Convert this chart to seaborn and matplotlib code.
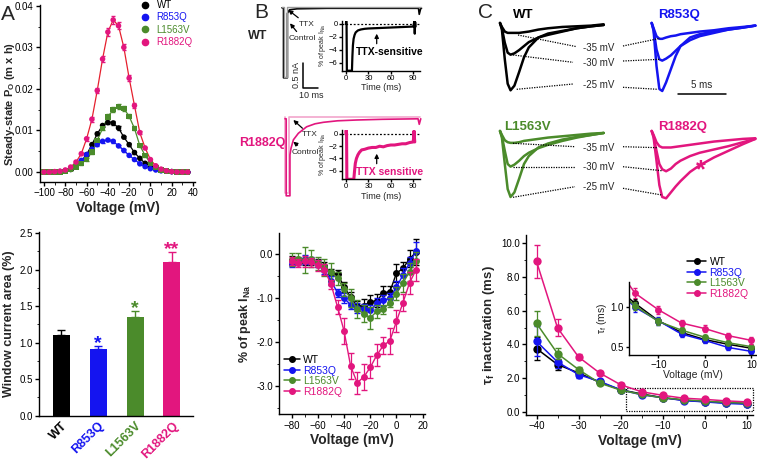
import numpy as np
import pandas as pd
import matplotlib
matplotlib.use('Agg')
import matplotlib.pyplot as plt
import seaborn as sns
from matplotlib.lines import Line2D
from matplotlib.patches import Rectangle
from matplotlib.ticker import MultipleLocator

#-----------data-------------------
names = ['WT', 'R853Q', 'L1563V', 'R1882Q']
colors = ['black', '#1414f0', '#4b8b2b', '#e2167e']
fit_colors = ['black', '#1414f0', '#4b8b2b', '#e5202e']

# A top : window current (m x h)
volt_a = list(range(-100, 40, 5))
po_wt = [0, 0, 0, 0.0001, 0.0003, 0.0006, 0.0013, 0.0025, 0.0042, 0.0066, 0.0092, 0.0112, 0.0119, 0.0118,
         0.0106, 0.0084, 0.0066, 0.0047, 0.0033, 0.0021, 0.0014, 0.0008, 0.0004, 0.0002, 0.0001, 0, 0, 0]
po_r853q = [0, 0, 0, 0.0001, 0.0003, 0.0008, 0.0016, 0.0028, 0.0042, 0.0055, 0.0066, 0.0074, 0.0077, 0.0074,
            0.0063, 0.0052, 0.0040, 0.0030, 0.0020, 0.0013, 0.0008, 0.0005, 0.0003, 0.0002, 0.0001, 0, 0, 0]
po_l1563v = [0, 0, 0, 0, 0.0002, 0.0006, 0.0012, 0.0020, 0.0030, 0.0048, 0.0076, 0.0105, 0.0133, 0.0150,
             0.0158, 0.0153, 0.0134, 0.0105, 0.0064, 0.0040, 0.0022, 0.0011, 0.0005, 0.0002, 0.0001, 0, 0, 0]
po_r1882q = [0, 0, 0.0001, 0.0002, 0.0005, 0.0012, 0.0024, 0.0044, 0.0080, 0.0127, 0.0196, 0.0272, 0.0337, 0.0366,
             0.0352, 0.0300, 0.0226, 0.0160, 0.0095, 0.0058, 0.0030, 0.0015, 0.0007, 0.0003, 0.0001, 0, 0, 0]
err_a_wt = [0, 0, 0, 0, 0, 0, 0.0002, 0.0002, 0.0003, 0.0003, 0.0004, 0.0004, 0.0004, 0.0004,
            0.0004, 0.0003, 0.0003, 0.0003, 0.0002, 0.0002, 0.0001, 0, 0, 0, 0, 0, 0, 0]
err_a_r853q = [0, 0, 0, 0, 0, 0, 0.0002, 0.0002, 0.0002, 0.0003, 0.0003, 0.0003, 0.0003, 0.0003,
               0.0003, 0.0003, 0.0002, 0.0002, 0.0002, 0.0001, 0.0001, 0, 0, 0, 0, 0, 0, 0]
err_a_l1563v = [0, 0, 0, 0, 0, 0.0001, 0.0002, 0.0002, 0.0003, 0.0004, 0.0005, 0.0005, 0.0006, 0.0006,
                0.0006, 0.0006, 0.0005, 0.0005, 0.0004, 0.0003, 0.0002, 0.0001, 0, 0, 0, 0, 0, 0]
err_a_r1882q = [0, 0, 0, 0, 0, 0.0002, 0.0003, 0.0004, 0.0005, 0.0006, 0.0007, 0.0008, 0.0009, 0.0010,
                0.0008, 0.0007, 0.0007, 0.0005, 0.0004, 0.0003, 0.0002, 0.0001, 0, 0, 0, 0, 0, 0]

# A bottom : window current area
bar_vals = [1.11, 0.91, 1.35, 2.10]
bar_sem = [0.06, 0.05, 0.09, 0.14]
bar_stars = ['', '*', '*', '**']

# B bottom : persistent current
volt_b = list(range(-80, 20, 5))
ina_wt = [-0.14, -0.15, -0.17, -0.16, -0.20, -0.27, -0.42, -0.45, -0.74, -0.98, -1.18, -1.17, -1.08, -1.06,
          -0.88, -0.85, -0.43, -0.32, -0.10, 0.05]
ina_r853q = [-0.22, -0.16, -0.11, -0.15, -0.22, -0.36, -0.60, -0.88, -1.00, -1.15, -1.22, -1.25, -1.28, -1.12,
             -1.05, -1.00, -0.75, -0.47, -0.20, 0.08]
ina_l1563v = [-0.12, -0.10, -0.13, -0.10, -0.20, -0.30, -0.40, -0.55, -0.80, -1.00, -1.25, -1.35, -1.45, -1.30,
              -1.25, -1.10, -0.90, -0.65, -0.40, -0.15]
ina_r1882q = [-0.15, -0.20, -0.16, -0.18, -0.25, -0.35, -0.68, -1.20, -1.75, -2.55, -2.93, -2.80, -2.58, -2.30,
              -2.08, -1.97, -1.53, -1.10, -0.65, -0.35]
err_b_wt = [0.10, 0.08, 0.08, 0.08, 0.10, 0.10, 0.08, 0.10, 0.12, 0.12, 0.12, 0.15, 0.15, 0.15, 0.15, 0.12, 0.20, 0.15, 0.20, 0.30]
err_b_r853q = [0.08, 0.08, 0.10, 0.08, 0.08, 0.10, 0.10, 0.10, 0.12, 0.10, 0.12, 0.12, 0.12, 0.12, 0.12, 0.12, 0.15, 0.15, 0.15, 0.20]
err_b_l1563v = [0.15, 0.12, 0.30, 0.20, 0.15, 0.20, 0.20, 0.15, 0.15, 0.20, 0.20, 0.20, 0.25, 0.15, 0.10, 0.10, 0.15, 0.20, 0.20, 0.20]
err_b_r1882q = [0.10, 0.10, 0.12, 0.10, 0.12, 0.12, 0.10, 0.15, 0.30, 0.30, 0.25, 0.30, 0.25, 0.25, 0.20, 0.30, 0.25, 0.20, 0.25, 0.25]

# B top : raw traces (ms, nA) and TTX-sensitive traces (ms, % of peak)
bwt_t_ctrl = [0, 1.0, 1.0, 3.6, 3.6, 5, 10, 30, 60, 91, 91.5, 92.5, 93]
bwt_i_ctrl = [-0.01, -0.01, -1.41, -1.41, -0.12, -0.05, -0.03, -0.02, -0.02, -0.02, -0.14, -0.02, -0.02]
bwt_t_ttx = [0, 1.5, 1.5, 3.1, 3.1, 93]
bwt_i_ttx = [0, 0, -1.40, -1.40, 0, 0]
br_t_ctrl = [0, 0.8, 0.8, 3.3, 3.3, 4.0, 5.6, 8.9, 14.4, 20, 25.6, 35, 47.8, 65, 88.7, 89.5, 90.5]
br_i_ctrl = [-0.01, -0.01, -1.55, -1.55, -0.73, -0.60, -0.43, -0.30, -0.17, -0.11, -0.08, -0.05, -0.034, -0.02, -0.01, -0.12, -0.01]
br_t_ttx = [0, 0.3, 0.3, 2.8, 2.8, 90]
br_i_ttx = [0.02, 0.02, -1.50, -1.50, 0.02, 0.02]
iwt_t = [0, 0.3, 0.8, 1.2, 2, 5, 8, 8.6, 9.3, 10.2, 11.5, 13, 16, 20, 25, 30, 40, 50, 60, 70, 80, 90, 91.5, 92, 92.5, 93]
iwt_i = [0.0, 0.5, 0.0, -7.2, -7.2, -7.2, -7.2, -5.0, -3.3, -2.3, -1.7, -1.3, -1.0, -0.85, -0.75, -0.70,
         -0.65, -0.60, -0.55, -0.50, -0.45, -0.40, 0.4, -1.5, 0.3, -0.4]
ir_t = [0, 0.3, 0.8, 1.2, 5, 10.5, 11.5, 12.5, 14, 16, 18, 21, 25, 30, 35, 40, 45, 50, 55, 60, 65, 70, 75,
        80, 85, 90, 91, 91.5, 92]
ir_i = [0, 0.6, 0, -7.4, -7.4, -7.4, -6.0, -4.8, -4.0, -3.4, -3.0, -2.6, -2.5, -2.3, -2.2, -2.2, -2.0, -2.1,
        -1.9, -1.8, -1.8, -1.7, -1.6, -1.6, -1.4, -1.3, 0.5, -0.5, -1.3]

# C top : normalised current traces at -25/-30/-35 mV
tr_t = [0, 0.2, 0.5, 0.8, 1.1, 1.5, 2.0, 2.5, 3.0, 4.0, 5.0, 6.5, 8.0, 9.5, 10.8]
tr_wt = {
    '-25': [0, -0.10, -0.55, -0.92, -1.02, -0.95, -0.74, -0.52, -0.37, -0.22, -0.16, -0.12, -0.08, -0.05, -0.03],
    '-30': [0, -0.08, -0.30, -0.45, -0.48, -0.46, -0.41, -0.35, -0.29, -0.22, -0.18, -0.13, -0.08, -0.05, -0.03],
    '-35': [0, -0.06, -0.13, -0.15, -0.15, -0.15, -0.15, -0.14, -0.13, -0.10, -0.08, -0.06, -0.05, -0.04, -0.02]}
tr_r853q = {
    '-25': [0, -0.12, -0.65, -1.00, -1.03, -0.90, -0.70, -0.50, -0.35, -0.22, -0.17, -0.13, -0.10, -0.07, -0.04],
    '-30': [0, -0.10, -0.40, -0.55, -0.57, -0.54, -0.49, -0.42, -0.35, -0.26, -0.20, -0.15, -0.10, -0.07, -0.04],
    '-35': [0, -0.08, -0.20, -0.24, -0.24, -0.22, -0.20, -0.19, -0.17, -0.15, -0.13, -0.11, -0.08, -0.06, -0.04]}
tr_l1563v = {
    '-25': [0, -0.10, -0.50, -0.88, -1.00, -0.93, -0.72, -0.50, -0.38, -0.25, -0.19, -0.13, -0.09, -0.06, -0.03],
    '-30': [0, -0.08, -0.30, -0.50, -0.54, -0.51, -0.45, -0.38, -0.33, -0.26, -0.21, -0.15, -0.10, -0.06, -0.03],
    '-35': [0, -0.06, -0.14, -0.17, -0.18, -0.18, -0.17, -0.15, -0.14, -0.12, -0.10, -0.08, -0.06, -0.04, -0.03]}
tr_r1882q = {
    '-25': [0, -0.10, -0.45, -0.82, -1.00, -1.02, -0.93, -0.84, -0.76, -0.62, -0.52, -0.40, -0.30, -0.20, -0.12],
    '-30': [0, -0.08, -0.30, -0.50, -0.58, -0.61, -0.57, -0.50, -0.45, -0.38, -0.33, -0.28, -0.23, -0.17, -0.12],
    '-35': [0, -0.06, -0.17, -0.23, -0.25, -0.25, -0.25, -0.24, -0.23, -0.21, -0.19, -0.16, -0.14, -0.12, -0.11]}

# C bottom : tau_f inactivation
volt_c = list(range(-40, 15, 5))
tau_wt = [3.75, 2.80, 2.30, 1.75, 1.30, 1.05, 0.83, 0.68, 0.59, 0.53, 0.48]
tau_r853q = [4.18, 2.95, 2.20, 1.80, 1.30, 1.00, 0.83, 0.66, 0.58, 0.49, 0.44]
tau_l1563v = [5.25, 3.45, 2.50, 1.70, 1.28, 1.02, 0.82, 0.71, 0.62, 0.55, 0.50]
tau_r1882q = [8.93, 4.98, 3.25, 2.30, 1.60, 1.18, 0.97, 0.80, 0.73, 0.64, 0.58]
err_c_wt = [0.70, 0.30, 0.20, 0.10, 0.06, 0.05, 0.04, 0.03, 0.03, 0.03, 0.03]
err_c_r853q = [0.90, 0.35, 0.20, 0.10, 0.06, 0.06, 0.05, 0.04, 0.03, 0.03, 0.03]
err_c_l1563v = [0.75, 0.35, 0.15, 0.10, 0.06, 0.05, 0.04, 0.04, 0.03, 0.03, 0.03]
err_c_r1882q = [1.00, 0.50, 0.15, 0.10, 0.08, 0.06, 0.05, 0.04, 0.04, 0.04, 0.04]

#-----------style-------------------
sns.set_style('ticks')
plt.rcParams['font.family'] = ['Liberation Sans', 'DejaVu Sans']
plt.rcParams.update({'mathtext.fontset': 'custom', 'mathtext.rm': 'Liberation Sans',
                     'mathtext.bf': 'Liberation Sans:bold', 'mathtext.it': 'Liberation Sans:italic',
                     'axes.linewidth': 1.0, 'xtick.major.width': 1.0, 'ytick.major.width': 1.0,
                     'xtick.major.size': 3, 'ytick.major.size': 3, 'xtick.minor.size': 1.8,
                     'ytick.minor.size': 1.8, 'xtick.major.pad': 1.5, 'ytick.major.pad': 1.5,
                     'xtick.color': 'black', 'ytick.color': 'black', 'axes.edgecolor': 'black'})

W, H = 757, 461
fig = plt.figure(figsize=(7.57, 4.61), dpi=100)


def box(x0, y0, x1, y1):
    return fig.add_axes([x0 / W, 1 - y1 / H, (x1 - x0) / W, (y1 - y0) / H])


def fp(x, y):
    return (x / W, 1 - y / H)


def color_legend(leg, cols):
    for t, c in zip(leg.get_texts(), cols):
        t.set_color(c)


def clean(ax):
    sns.despine(ax=ax)
    ax.tick_params(labelsize=7)


#-----------A top-------------------
ax = box(40, 5, 195, 182)
series_a = [po_wt, po_r853q, po_l1563v, po_r1882q]
errs_a = [err_a_wt, err_a_r853q, err_a_l1563v, err_a_r1882q]
markers_a = ['o', 'o', 's', 'o']
for name, y, e, c, lc, m in zip(names, series_a, errs_a, colors, fit_colors, markers_a):
    sns.lineplot(x=volt_a, y=y, color=lc, lw=0.9, ax=ax)
    ax.errorbar(volt_a, y, yerr=e, fmt='none', ecolor=c, elinewidth=0.8, capsize=1.5)
    sns.scatterplot(x=volt_a, y=y, color=c, s=16, marker=m, edgecolor='none', ax=ax, zorder=3)
ax.set_xlim(-103.8, 41.9)
ax.set_ylim(-0.0024, 0.0402)
ax.set_xticks(range(-100, 41, 20))
ax.set_yticks([0, 0.01, 0.02, 0.03, 0.04])
ax.set_yticklabels(['0.00', '0.01', '0.02', '0.03', '0.04'])
ax.xaxis.set_minor_locator(MultipleLocator(10))
ax.yaxis.set_minor_locator(MultipleLocator(0.005))
clean(ax)
ax.set_xlabel('Voltage (mV)', fontsize=10, fontweight='bold', labelpad=2)
ax.set_ylabel(r'Steady-state P$_\mathbf{O}$ (m x h)', fontsize=8, fontweight='bold')
ax.yaxis.set_label_coords(-0.15, 0.44)
handles = [Line2D([], [], ls='none', marker=m, color=c, ms=4.5) for m, c in zip(['o', 'o', 'o', 'o'], colors)]
leg = ax.legend(handles, names, loc='upper left', bbox_to_anchor=fp(141, 0), bbox_transform=fig.transFigure,
                frameon=False, fontsize=7, handlelength=0.8, handletextpad=0.8, labelspacing=0.25,
                borderpad=0, borderaxespad=0)
color_legend(leg, colors)

#-----------A bottom-------------------
ax = box(39, 231.7, 193, 415.7)
sns.barplot(x=names, y=bar_vals, hue=names, palette=colors, legend=False, width=0.46, ax=ax,
            saturation=1, edgecolor='none')
for i, (v, s, c, st) in enumerate(zip(bar_vals, bar_sem, colors, bar_stars)):
    ax.errorbar(i, v, yerr=[[0], [s]], fmt='none', ecolor=c, elinewidth=1, capsize=3, capthick=1)
    ax.text(i, v + s - 0.03, st, ha='center', va='baseline', color=c, fontsize=14, fontweight='bold')
ax.set_xlim(-0.6, 3.57)
ax.set_ylim(0, 2.52)
ax.set_yticks([0, 0.5, 1.0, 1.5, 2.0, 2.5])
ax.set_yticklabels(['0.0', '0.5', '1.0', '1.5', '2.0', '2.5'])
ax.yaxis.set_minor_locator(MultipleLocator(0.25))
clean(ax)
ax.tick_params(axis='x', length=0, pad=3)
ax.set_xticks(range(4))
ax.set_xticklabels(names, rotation=45, ha='right', rotation_mode='anchor', fontsize=9, fontweight='bold')
for t, c in zip(ax.get_xticklabels(), colors):
    t.set_color(c)
ax.set_ylabel('Window current area (%)', fontsize=9, fontweight='bold', labelpad=3)

#-----------B top traces-------------------
axw = box(270, 0, 430, 100)
axw.axis('off')
axw.set_xlim(-8, 98.67)
axw.set_ylim(-1.854, 0.146)
sns.lineplot(x=bwt_t_ctrl, y=bwt_i_ctrl, color='black', lw=1.2, estimator=None, sort=False, ax=axw)
sns.lineplot(x=bwt_t_ttx, y=bwt_i_ttx, color='#9a9a9a', lw=1.0, estimator=None, sort=False, ax=axw)
# scale bar 10 ms / 0.5 nA
axw.plot([14.2, 14.2, 14.2 + 10], [-1.12, -1.62, -1.62], color='black', lw=1.1)

axr = box(270, 110, 430, 210)
axr.axis('off')
axr.set_xlim(-10, 96.67)
axr.set_ylim(-1.834, 0.166)
sns.lineplot(x=br_t_ttx, y=br_i_ttx, color='#f2a6cc', lw=1.2, estimator=None, sort=False, ax=axr)
sns.lineplot(x=br_t_ctrl, y=br_i_ctrl, color=colors[3], lw=1.2, estimator=None, sort=False, ax=axr)

fig.text(*fp(296.7, 75), '0.5 nA', rotation=90, ha='center', va='center', fontsize=6.5)
fig.text(*fp(311, 95), '10 ms', ha='center', va='center', fontsize=6.5)
fig.text(*fp(258, 36), 'WT', ha='center', va='center', fontsize=9, fontweight='bold')
fig.text(*fp(262, 143), 'R1882Q', ha='center', va='center', fontsize=9, fontweight='bold', color=colors[3])

arrow = dict(arrowstyle='-|>', color='black', lw=0.9, mutation_scale=6, shrinkA=0, shrinkB=0)
axw.annotate('TTX', xy=fp(288.3, 10), xytext=fp(299, 24.5), xycoords='figure fraction',
             textcoords='figure fraction', fontsize=6, va='center', arrowprops=arrow)
axw.annotate('Control', xy=fp(290, 23.3), xytext=fp(288.3, 38.3), xycoords='figure fraction',
             textcoords='figure fraction', fontsize=6, va='center', arrowprops=arrow)
axr.annotate('TTX', xy=fp(293.3, 120), xytext=fp(302, 135), xycoords='figure fraction',
             textcoords='figure fraction', fontsize=6, va='center', arrowprops=arrow)
axr.annotate('Control', xy=fp(293.3, 141.7), xytext=fp(292, 152), xycoords='figure fraction',
             textcoords='figure fraction', fontsize=6, va='center', arrowprops=arrow)

# insets TTX-sensitive
for (y0, y1, ylim, t, i, c, lab, ty) in [
        (20.7, 70.7, (-7.2, 0.5), iwt_t, iwt_i, 'black', 'TTX-sensitive', 51.7),
        (130, 179.3, (-7.4, 0.65), ir_t, ir_i, colors[3], 'TTX sensitive', 171.7)]:
    axi = box(341.7, y0, 420, y1)
    axi.set_facecolor('none')
    axi.axhline(0, color='black', ls=(0, (1.5, 1.5)), lw=0.9)
    sns.lineplot(x=t, y=i, color=c, lw=1.6 if c == 'black' else 2.2, estimator=None, sort=False, ax=axi)
    axi.set_xlim(-5.7, 99)
    axi.set_ylim(*ylim)
    axi.set_xticks([0, 30, 60, 90])
    axi.set_yticks([0, -2, -4, -6])
    sns.despine(ax=axi)
    axi.tick_params(labelsize=5.5, length=2, pad=1)
    axi.set_xlabel('Time (ms)', fontsize=6.5, labelpad=1)
    axi.set_ylabel('% of peak I$_\\mathrm{Na}$', fontsize=5, labelpad=0.5)
    fig.text(*fp(390, ty), lab, ha='center', va='center', fontsize=7.5, fontweight='bold', color=c)
    axi.annotate('', xy=fp(376.7, ty - 18), xytext=fp(376.7, ty - 8), xycoords='figure fraction',
                 textcoords='figure fraction', arrowprops=arrow)

#-----------B bottom-------------------
ax = box(279, 233.3, 425, 414.3)
series_b = [ina_wt, ina_r853q, ina_l1563v, ina_r1882q]
errs_b = [err_b_wt, err_b_r853q, err_b_l1563v, err_b_r1882q]
for y, e, c in zip(series_b, errs_b, colors):
    ax.errorbar(volt_b, y, yerr=e, fmt='none', ecolor=c, elinewidth=0.9, capsize=2)
    sns.lineplot(x=volt_b, y=y, color=c, lw=1.0, marker='o', markersize=5, markeredgecolor='none', ax=ax)
ax.set_xlim(-89.7, 21.8)
ax.set_ylim(-3.65, 0.48)
ax.set_xticks(range(-80, 21, 20))
ax.set_yticks([0, -1, -2, -3])
ax.set_yticklabels(['0.0', '-1.0', '-2.0', '-3.0'])
ax.xaxis.set_minor_locator(MultipleLocator(10))
ax.yaxis.set_minor_locator(MultipleLocator(0.5))
clean(ax)
ax.set_xlabel('Voltage (mV)', fontsize=10, fontweight='bold', labelpad=2)
ax.set_ylabel('% of peak I$_\\mathbf{Na}$', fontsize=9, fontweight='bold', labelpad=2)
handles = [Line2D([], [], color=c, marker='o', ms=4, lw=1.1) for c in colors]
leg = ax.legend(handles, names, loc='upper left', bbox_to_anchor=fp(284, 355), bbox_transform=fig.transFigure,
                frameon=False, fontsize=7.5, handlelength=1.5, handletextpad=0.3, labelspacing=0.05,
                borderpad=0, borderaxespad=0)
color_legend(leg, colors)

#-----------C top traces-------------------
axc = box(495, 8, 757, 210)
axc.axis('off')
axc.set_xlim(-0.52, 26.77)
axc.set_ylim(-2.833, 0.227)
col_shift = 15.8
row_shift = -1.636
groups = [(tr_wt, 0, 0), (tr_r853q, col_shift, 0), (tr_l1563v, 0, row_shift), (tr_r1882q, col_shift, row_shift)]
for (g, dx, dy), c in zip(groups, colors):
    for key in ['-35', '-30', '-25']:
        sns.lineplot(x=[t + dx for t in tr_t], y=[v + dy for v in g[key]], color=c, lw=1.8,
                     estimator=None, sort=False, ax=axc)
# scale bar 5 ms
axc.plot([18.5, 18.5 + 5], [-1.08, -1.08], color='black', lw=1.1)
fig.text(*fp(702, 85), '5 ms', ha='center', va='center', fontsize=7)

fig.text(*fp(513, 15), 'WT', ha='left', va='center', fontsize=9.5, fontweight='bold', color=colors[0])
fig.text(*fp(658, 15), 'R853Q', ha='left', va='center', fontsize=9.5, fontweight='bold', color=colors[1])
fig.text(*fp(504, 127), 'L1563V', ha='left', va='center', fontsize=9.5, fontweight='bold', color=colors[2])
fig.text(*fp(658, 127), 'R1882Q', ha='left', va='center', fontsize=9.5, fontweight='bold', color=colors[3])
fig.text(*fp(701, 170), '*', ha='center', va='center', fontsize=18, fontweight='bold', color=colors[3])

for lab, y in [('-35 mV', 48), ('-30 mV', 63), ('-25 mV', 85), ('-35 mV', 148.3), ('-30 mV', 166.7), ('-25 mV', 186.7)]:
    fig.text(*fp(599, y), lab, ha='center', va='center', fontsize=7)
guide_lines = [((518, 35), (576.7, 46.7)), ((513, 55), (573, 62.3)), ((516.7, 89.3), (573, 84)),
               ((623, 46), (660, 38.3)), ((623, 61), (660, 59.3)), ((623, 87.3), (658, 89.3)),
               ((513, 143.3), (575, 146.7)), ((513, 166.7), (575, 166.7)), ((513, 197.3), (575, 186.7)),
               ((623, 146.7), (658, 147.7)), ((623, 166.7), (661.7, 170.7)), ((623, 188.3), (661.7, 195))]
for p0, p1 in guide_lines:
    a, b = fp(*p0), fp(*p1)
    fig.add_artist(Line2D([a[0], b[0]], [a[1], b[1]], transform=fig.transFigure, color='black',
                          lw=0.9, ls=(0, (1, 1))))

#-----------C bottom-------------------
ax = box(526, 235, 753, 415)
series_c = [tau_wt, tau_r853q, tau_l1563v, tau_r1882q]
errs_c = [err_c_wt, err_c_r853q, err_c_l1563v, err_c_r1882q]
for y, e, c in zip(series_c, errs_c, colors):
    ax.errorbar(volt_c, y, yerr=e, fmt='none', ecolor=c, elinewidth=0.9, capsize=2)
    sns.lineplot(x=volt_c, y=y, color=c, lw=1.1, marker='o', markersize=6, markeredgecolor='none', ax=ax)
ax.set_xlim(-42.5, 11.5)
ax.set_ylim(-0.2, 10.5)
ax.set_xticks(range(-40, 11, 10))
ax.set_yticks(range(0, 11, 2))
ax.set_yticklabels(['0.0', '2.0', '4.0', '6.0', '8.0', '10.0'])
ax.xaxis.set_minor_locator(MultipleLocator(5))
ax.yaxis.set_minor_locator(MultipleLocator(1))
clean(ax)
ax.set_xlabel('Voltage (mV)', fontsize=10, fontweight='bold', labelpad=2)
ax.set_ylabel('τ$_\\mathbf{f}$ inactivation (ms)', fontsize=9.5, fontweight='bold', labelpad=3)
ax.add_patch(Rectangle((-18.8, 0.04), 30.2, 1.39, fill=False, ls=(0, (1, 1)), lw=0.9,
                       edgecolor='black', clip_on=False))
handles = [Line2D([], [], color=c, marker='o', ms=4, lw=1.1) for c in colors]
leg = ax.legend(handles, names, loc='upper left', bbox_to_anchor=fp(686.7, 257), bbox_transform=fig.transFigure,
                frameon=False, fontsize=7.5, handlelength=1.9, handletextpad=0.3, labelspacing=0.05,
                borderpad=0, borderaxespad=0)
color_legend(leg, colors)

# inset zoom
axi = box(629, 281.7, 756, 355)
axi.set_facecolor('none')
for y, e, c in zip(series_c, errs_c, colors):
    axi.errorbar(volt_c, y, yerr=e, fmt='none', ecolor=c, elinewidth=0.8, capsize=1.5)
    sns.lineplot(x=volt_c, y=y, color=c, lw=1.1, marker='o', markersize=5, markeredgecolor='none', ax=axi)
axi.set_xlim(-16.3, 11.0)
axi.set_ylim(0.394, 1.326)
axi.set_xticks([-10, 0, 10])
axi.set_yticks([0.5, 1.0])
sns.despine(ax=axi)
axi.tick_params(labelsize=7, length=2.5, pad=1)
axi.set_xlabel('Voltage (mV)', fontsize=7.5, labelpad=0)
axi.set_ylabel('τ$_\\mathrm{f}$ (ms)', fontsize=7.5, labelpad=1)

#-----------panel letters-------------------
fig.text(*fp(1, 14), 'A', fontsize=15, va='center')
fig.text(*fp(254, 12), 'B', fontsize=15, va='center')
fig.text(*fp(478, 12), 'C', fontsize=15, va='center')

fig.savefig('out.png', dpi=100)
